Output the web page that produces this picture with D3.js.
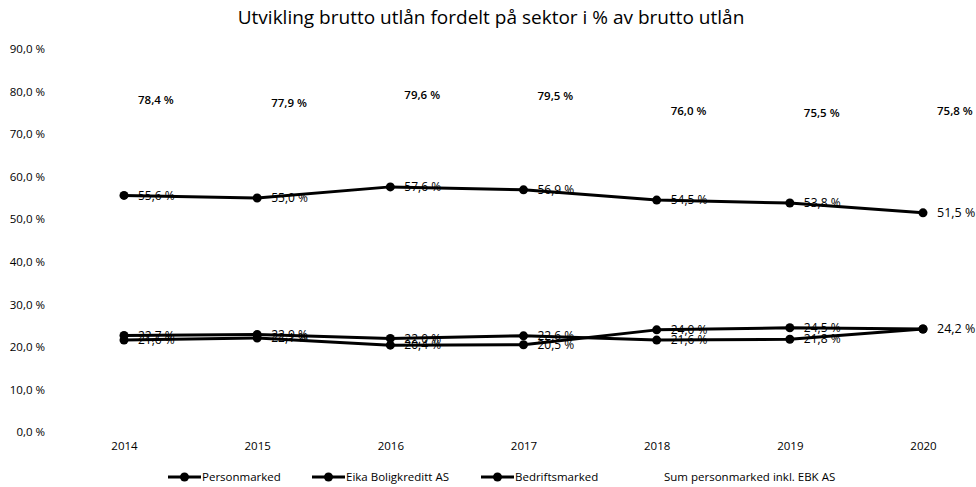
<!DOCTYPE html>
<html>
<head>
<meta charset="utf-8">
<script src="https://cdn.jsdelivr.net/npm/d3@7"></script>
<style>
  body { margin: 0; background: #fff; }
  text { font-family: "Open Sans", Lato, sans-serif; fill: #000; }
</style>
</head>
<body>
<div id="chart"></div>
<script>
const years = ['2014', '2015', '2016', '2017', '2018', '2019', '2020'];
const personmarked = [55.6, 55.0, 57.6, 56.9, 54.5, 53.8, 51.5];
const eikaBoligkreditt = [22.7, 22.9, 22.0, 22.6, 21.6, 21.8, 24.2];
const bedriftsmarked = [21.6, 22.1, 20.4, 20.5, 24.0, 24.5, 24.2];
const sumPersonmarked = [78.4, 77.9, 79.6, 79.5, 76.0, 75.5, 75.8];
const yTicks = [0, 10, 20, 30, 40, 50, 60, 70, 80, 90];

const lineSeries = [
    { name: 'Personmarked', values: personmarked },
    { name: 'Eika Boligkreditt AS', values: eikaBoligkreditt },
    { name: 'Bedriftsmarked', values: bedriftsmarked }
];

function pct(v) {
    return v.toFixed(1).replace('.', ',') + ' %';
}

var width = 976,
    height = 487;

var svg = d3.select('#chart').append('svg')
    .attr('width', width)
    .attr('height', height);

var x = d3.scalePoint()
    .domain(years)
    .range([124, 923]);

var y = d3.scaleLinear()
    .domain([0, 90])
    .range([432, 49]);

// title
svg.append('text')
    .attr('x', 491)
    .attr('y', 24)
    .attr('text-anchor', 'middle')
    .style('font-size', '19px')
    .text('Utvikling brutto utlån fordelt på sektor i % av brutto utlån');

// y axis, labels only
var yAxis = d3.axisLeft(y)
    .tickValues(yTicks)
    .tickFormat(pct)
    .tickSize(0)
    .tickPadding(0);
var gy = svg.append('g')
    .attr('transform', 'translate(45,0)')
    .call(yAxis);
gy.select('.domain').remove();
gy.selectAll('text').style('font-size', '11.5px').style('font-family', '"Open Sans", sans-serif');

// x axis, labels only
var xAxis = d3.axisBottom(x).tickSize(0).tickPadding(0);
var gx = svg.append('g')
    .attr('transform', 'translate(0,442)')
    .call(xAxis);
gx.select('.domain').remove();
gx.selectAll('text').style('font-size', '11.5px').style('font-family', '"Open Sans", sans-serif');

var line = d3.line()
    .x(function (d, i) { return x(years[i]); })
    .y(function (d) { return y(d); });

var g = svg.append('g');

lineSeries.forEach(function (s) {
    g.append('path')
        .datum(s.values)
        .attr('d', line)
        .attr('fill', 'none')
        .attr('stroke', '#000')
        .attr('stroke-width', 3)
        .attr('stroke-linejoin', 'round');
});

lineSeries.forEach(function (s) {
    g.selectAll(null)
        .data(s.values)
        .enter()
        .append('circle')
        .attr('cx', function (d, i) { return x(years[i]); })
        .attr('cy', function (d) { return y(d); })
        .attr('r', 4.5)
        .attr('fill', '#000');
});

// data labels
lineSeries.forEach(function (s, si) {
    g.selectAll(null)
        .data(s.values)
        .enter()
        .filter(function (d, i) { return !(si == 2 && i == years.length - 1); })
        .append('text')
        .attr('x', function (d, i) { return x(years[i]) + 14; })
        .attr('y', function (d) { return y(d); })
        .attr('dy', '0.35em')
        .style('font-size', function (d, i) { return i == years.length - 1 ? '12.5px' : '12px'; })
        .text(pct);
});

// sum labels (no line)
g.selectAll(null)
    .data(sumPersonmarked)
    .enter()
    .append('text')
    .attr('x', function (d, i) { return x(years[i]) + 14; })
    .attr('y', function (d) { return y(d) + 2; })
    .attr('dy', '0.35em')
    .style('font-size', '11.5px')
    .style('font-weight', '600')
    .text(pct);

// legend
var legendItems = [
    { name: 'Personmarked', x: 168, marker: true },
    { name: 'Eika Boligkreditt AS', x: 312, marker: true },
    { name: 'Bedriftsmarked', x: 481, marker: true },
    { name: 'Sum personmarked inkl. EBK AS', x: 630, marker: false }
];
var legend = svg.append('g').attr('transform', 'translate(0,477)');
legendItems.forEach(function (it) {
    if (it.marker) {
        legend.append('line')
            .attr('x1', it.x).attr('x2', it.x + 33)
            .attr('y1', 0).attr('y2', 0)
            .attr('stroke', '#000').attr('stroke-width', 3);
        legend.append('circle')
            .attr('cx', it.x + 16.5).attr('cy', 0).attr('r', 4.5)
            .attr('fill', '#000');
    }
    legend.append('text')
        .attr('x', it.x + 34)
        .attr('y', 0)
        .attr('dy', '0.35em')
        .style('font-size', '11.5px')
        .text(it.name);
});
</script>
</body>
</html>
